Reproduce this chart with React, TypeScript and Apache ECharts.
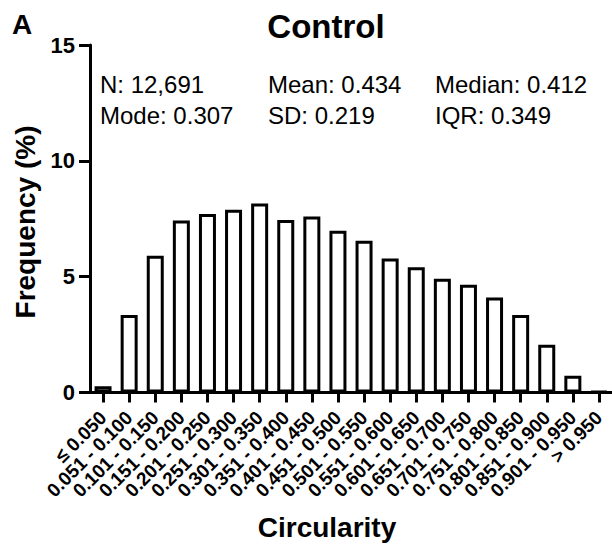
import React, { useEffect, useRef } from "react";
import * as echarts from "echarts";

// Circularity bins (x axis categories)
const categories: string[] = [
  "≤ 0.050",
  "0.051 - 0.100",
  "0.101 - 0.150",
  "0.151 - 0.200",
  "0.201 - 0.250",
  "0.251 - 0.300",
  "0.301 - 0.350",
  "0.351 - 0.400",
  "0.401 - 0.450",
  "0.451 - 0.500",
  "0.501 - 0.550",
  "0.551 - 0.600",
  "0.601 - 0.650",
  "0.651 - 0.700",
  "0.701 - 0.750",
  "0.751 - 0.800",
  "0.801 - 0.850",
  "0.851 - 0.900",
  "0.901 - 0.950",
  "> 0.950",
];

// Frequency (%) of cells per bin
const frequency: number[] = [
  0.27, 3.35, 5.9, 7.42, 7.71, 7.89, 8.16, 7.45, 7.6, 6.98, 6.55, 5.78, 5.41,
  4.91, 4.65, 4.1, 3.34, 2.06, 0.72, 0.05,
];

// Y axis range
const yMin = 0;
const yMax = 15;
const yStep = 5;

// Summary statistics, laid out in three columns of two rows
const statsColumn1: string[] = ["N: 12,691", "Mode: 0.307"];
const statsColumn2: string[] = ["Mean: 0.434", "SD: 0.219"];
const statsColumn3: string[] = ["Median: 0.412", "IQR: 0.349"];

const panelLabel = "A";
const chartTitle = "Control";
const xTitle = "Circularity";
const yTitle = "Frequency (%)";

const FONT = "Liberation Sans, Arial, Helvetica, sans-serif";

function textEl(
  text: string,
  x: number,
  y: number,
  size: number,
  bold: boolean,
  align: string,
  rotation = 0
) {
  return {
    type: "text",
    x,
    y,
    rotation,
    style: {
      text,
      fill: "#000",
      fontSize: size,
      fontWeight: bold ? "bold" : "normal",
      fontFamily: FONT,
      textAlign: align,
      textVerticalAlign: "middle",
    },
  };
}

export default function App() {
  const ref = useRef<HTMLDivElement>(null);

  useEffect(() => {
    document.body.style.margin = "0";
    if (!ref.current) return;
    const chart = echarts.init(ref.current, undefined, { renderer: "svg" });

    const statColumns = [
      { x: 100, lines: statsColumn1 },
      { x: 268, lines: statsColumn2 },
      { x: 435, lines: statsColumn3 },
    ];
    const rowY = [84, 115];

    const statTexts: any[] = [];
    statColumns.forEach((col) => {
      col.lines.forEach((line, i) => {
        statTexts.push(textEl(line, col.x, rowY[i], 24, false, "left"));
      });
    });

    chart.setOption({
      animation: false,
      backgroundColor: "#fff",
      grid: { left: 90, top: 45, width: 523, height: 347.5, containLabel: false },
      xAxis: {
        type: "category",
        data: categories,
        axisLine: { show: true, lineStyle: { color: "#000", width: 3 } },
        axisTick: {
          show: true,
          alignWithLabel: true,
          length: 10,
          lineStyle: { color: "#000", width: 3 },
        },
        axisLabel: {
          interval: 0,
          rotate: 45,
          margin: 22,
          color: "#000",
          fontSize: 19,
          fontWeight: "bold",
          fontFamily: FONT,
        },
        splitLine: { show: false },
      },
      yAxis: {
        type: "value",
        min: yMin,
        max: yMax,
        interval: yStep,
        axisLine: { show: true, lineStyle: { color: "#000", width: 3 } },
        axisTick: { show: true, length: 11, lineStyle: { color: "#000", width: 3 } },
        axisLabel: {
          margin: 15,
          color: "#000",
          fontSize: 22,
          fontWeight: "bold",
          fontFamily: FONT,
        },
        splitLine: { show: false },
      },
      series: [
        {
          type: "bar",
          data: frequency,
          barWidth: 17,
          itemStyle: { color: "#fff", borderColor: "#000", borderWidth: 3 },
        },
      ],
      graphic: [
        textEl(panelLabel, 12, 24, 28, true, "left"),
        textEl(chartTitle, 326, 26, 33, true, "center"),
        textEl(xTitle, 327, 527, 28, true, "center"),
        textEl(yTitle, 25, 222, 28, true, "center", Math.PI / 2),
        ...statTexts,
      ],
    });

    return () => {
      chart.dispose();
    };
  }, []);

  return <div ref={ref} style={{ width: 612, height: 545 }} />;
}
